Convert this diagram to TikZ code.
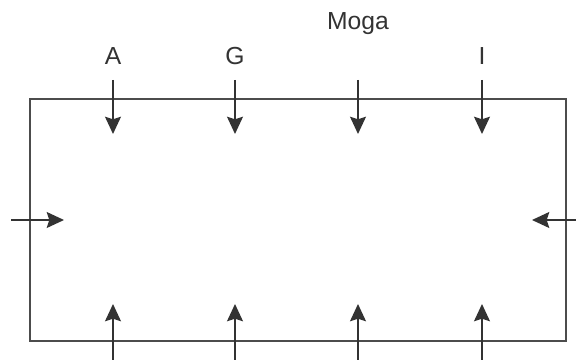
\documentclass[tikz,border=0pt]{standalone}
\usepackage{fontspec}
\setmainfont{Liberation Sans}
\usetikzlibrary{arrows.meta}
\begin{document}
\begin{tikzpicture}[x=0.75pt,y=-0.75pt,
    force/.style={-{Stealth[length=13pt,width=12pt,inset=2pt]}, line width=1.1pt, black!80},
    lbl/.style={anchor=base, inner sep=0pt, font=\fontsize{18.5}{22}\selectfont, text=black!80}]
    \useasboundingbox (0,0) rectangle (576,360);

    % Draw the box
    \draw[line width=1.3pt, black!70] (30,99) rectangle (566,341);

    % Label the forces on top
    \node[lbl] (labA) at (113,65) {A};
    \node[lbl] (labG) at (235,65) {G};
    \node[lbl] (labM) at (358,30) {Moga};
    \node[lbl] (labI) at (482,65) {I};

    \foreach \x/\n in {113/a, 235/g, 358/m, 482/i} {
        \coordinate (\n top) at (\x,80);
        \coordinate (\n down) at (\x,134);
        \coordinate (\n bot) at (\x,360);
        \coordinate (\n up) at (\x,304);
        \draw[force] (\n top) -- (\n down);
        \draw[force] (\n bot) -- (\n up);
    }

    % Side pushes
    \coordinate (lefttail) at (11,220);
    \coordinate (lefttip) at (64,220);
    \coordinate (righttail) at (576,220);
    \coordinate (righttip) at (532,220);
    \draw[force] (lefttail) -- (lefttip);
    \draw[force] (righttail) -- (righttip);
\end{tikzpicture}
\end{document}
